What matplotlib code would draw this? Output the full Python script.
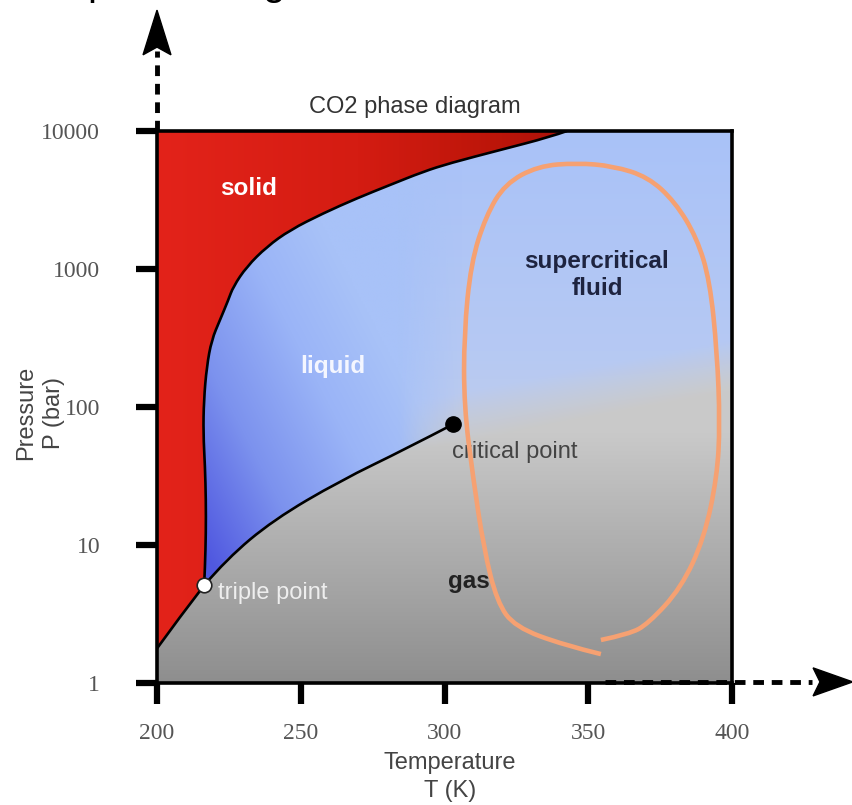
import numpy as np
import matplotlib
matplotlib.use("Agg")
import matplotlib.pyplot as plt
from matplotlib.patches import Polygon, PathPatch
from matplotlib.path import Path
from matplotlib.lines import Line2D
from matplotlib.colors import to_rgb

# phase boundaries of CO2, T in K, P in bar
sub_T = [200, 208, 216.4]
sub_P = [1.78, 3.0, 5.1]
melt_T = [216.4, 216.7, 217.0, 217.0, 216.7, 216.1, 216.3, 217.3, 219.0,
          221.9, 224.8, 226.5, 231.2, 238.2, 246.3, 257.8, 269.5, 281.0, 292.6,
          301.9, 319.3, 336.7, 342.6]
melt_P = [5.1, 6.96, 12.2, 21.2, 36.9, 64.5, 112, 196, 306,
          427, 596, 744, 1040, 1451, 1918, 2534, 3253, 4062, 5072,
          5850, 7280, 9050, 10000]
vap_T = [216.4, 224.2, 240.5, 263.7, 286.8, 303.0]
vap_P = [5.1, 7.9, 15.2, 29.2, 50.0, 75.0]
triple = (216.4, 5.1)
critical = (303.0, 75.0)

# hand-drawn orange loop (T, P)
loop_T = [354.4, 341.6, 324.5, 318.3, 313.7, 309.9, 306.8, 306.8, 309.2, 314.4,
          321.0, 332.5, 346.1, 358.6, 370.8, 380.2, 387.8, 392.3, 394.8, 395.8,
          394.8, 390.3, 382.3, 370.8, 364.2, 354.4]
loop_P = [1.62, 1.88, 2.55, 3.86, 9.35, 31.1, 101.6, 338, 1105, 2423,
          4130, 5575, 5865, 5575, 4645, 3060, 1678, 818, 250, 75.3,
          31.1, 11.2, 4.88, 2.68, 2.26, 2.05]

x_ticks = [200, 250, 300, 350, 400]
y_ticks = [1, 10, 100, 1000, 10000]
y_ticklabels = ["1", "10", "100", "1000", "10000"]

SANS = ["Liberation Sans", "DejaVu Sans"]
SERIF = ["Liberation Serif", "DejaVu Serif"]


def ramp(t, stops, colors):
    """interpolate a colour ramp over array t"""
    rgb = np.array([to_rgb(c) for c in colors])
    out = np.zeros(t.shape + (3,))
    for k in range(3):
        out[..., k] = np.interp(t, stops, rgb[:, k])
    return out


def smooth_path(xs, ys):
    """quadratic bezier through the midpoints, midpoints taken in log-P"""
    verts = [(xs[0], ys[0])]
    codes = [Path.MOVETO]
    n = len(xs)
    for i in range(1, n - 1):
        mx = 0.5 * (xs[i] + xs[i + 1])
        my = np.sqrt(ys[i] * ys[i + 1])
        if i == n - 2:
            mx, my = xs[-1], ys[-1]
        verts += [(xs[i], ys[i]), (mx, my)]
        codes += [Path.CURVE3, Path.CURVE3]
    return Path(verts, codes)


fig = plt.figure(figsize=(8.53, 8.05), dpi=100)
ax = fig.add_axes([157 / 853, 1 - 683 / 805, 575 / 853, 552 / 805])
ax.set_yscale("log")
ax.set_autoscale_on(False)

ny, nx = 300, 300
fx = np.linspace(0, 1, nx)[None, :] * np.ones((ny, 1))
fy = np.linspace(0, 1, ny)[:, None] * np.ones((1, nx))

# background: gas grey fading into supercritical blue
gray = ramp(fy, [0, 0.15, 0.33, 0.45, 1.0],
            ["#8e8e8e", "#a2a2a2", "#b9b9b9", "#c9c9c9", "#d0d0d0"])
blue = ramp(fy, [0.4, 0.6, 1.0], ["#c2cdea", "#b6c9f3", "#a9c2f8"])
w = np.clip((fy - 0.2 * (fx - 0.5) - 0.43) / 0.09, 0, 1)[..., None]
bg = w * blue + (1 - w) * gray
ax.imshow(bg, extent=(0, 1, 0, 1), transform=ax.transAxes, origin="lower",
          aspect="auto", interpolation="bilinear", zorder=0)

# solid region
solid_img = ramp(fx, [0, 0.35, 0.6, 0.75], ["#e3231a", "#d41c12", "#bb1509", "#a5110a"])
sol_poly = Polygon(np.column_stack([sub_T + melt_T[1:] + [200], sub_P + melt_P[1:] + [10000]]),
                   closed=True, transform=ax.transData)
im = ax.imshow(solid_img, extent=(0, 1, 0, 1), transform=ax.transAxes, origin="lower",
               aspect="auto", interpolation="bilinear", zorder=1)
im.set_clip_path(sol_poly)

# liquid region, fades out towards the supercritical side
t = np.clip(((fx - 0.09) + 0.5 * (fy - 0.22)) / 0.5, 0, 1)
liq = ramp(t, [0, 0.35, 0.7, 1], ["#5058e0", "#7c92ee", "#9ab4f7", "#a8c2f8"])
alpha = np.clip((0.53 - fx) / 0.11, 0, 1)[..., None]
liq_img = np.concatenate([liq, alpha], axis=2)
liq_poly = Polygon(np.column_stack([melt_T + [400, 400] + vap_T[::-1],
                                    melt_P + [10000, critical[1]] + vap_P[::-1]]),
                   closed=True, transform=ax.transData)
im = ax.imshow(liq_img, extent=(0, 1, 0, 1), transform=ax.transAxes, origin="lower",
               aspect="auto", interpolation="bilinear", zorder=1)
im.set_clip_path(liq_poly)

# phase boundaries
ax.plot(sub_T, sub_P, color="black", lw=1.9, zorder=3)
for xs, ys in [(melt_T, melt_P), (vap_T, vap_P)]:
    ax.add_patch(PathPatch(smooth_path(xs, ys), facecolor="none", edgecolor="black",
                           lw=1.9, transform=ax.transData, zorder=3))
ax.plot(*critical, "o", ms=11, color="black", zorder=4)
ax.plot(*triple, "o", ms=10.5, mfc="white", mec="#222222", mew=1.2, zorder=4)

ax.set_xlim(200, 400)
ax.set_ylim(1, 10000)
ax.set_xticks(x_ticks)
ax.set_xticklabels([str(v) for v in x_ticks])
ax.set_yticks(y_ticks)
ax.set_yticklabels(y_ticklabels)
ax.minorticks_off()
ax.tick_params(axis="both", direction="out", length=15, width=4.5, color="black",
               labelsize=17, labelcolor="#555555")
ax.tick_params(axis="y", pad=26)
ax.tick_params(axis="x", pad=14)
for lab in ax.get_xticklabels() + ax.get_yticklabels():
    lab.set_family(SERIF)
for sp in ax.spines.values():
    sp.set_linewidth(2.6)
    sp.set_zorder(5)

# region labels
ax.text(232, 3860, "solid", color="white", fontsize=17.5, fontweight="bold",
        ha="center", va="center", family=SANS, zorder=5)
ax.text(261, 198, "liquid", color="#f4f6ff", fontsize=17.5, fontweight="bold",
        ha="center", va="center", family=SANS, zorder=5)
ax.text(353, 905, "supercritical\nfluid", color="#1e2440", fontsize=17.5, fontweight="bold",
        ha="center", va="center", family=SANS, linespacing=1.2, zorder=5)
ax.text(302.6, 47.2, "critical point", color="#444444", fontsize=17,
        ha="left", va="center", family=SANS, zorder=5)
ax.text(221.2, 4.49, "triple point", color="#eeeeee", fontsize=17,
        ha="left", va="center", family=SANS, zorder=5)
ax.text(301.2, 5.4, "gas", color="#222222", fontsize=17.5, fontweight="bold",
        ha="left", va="center", family=SANS, zorder=5)

# orange hand-drawn loop
loop = PathPatch(smooth_path(loop_T, loop_P), facecolor="none", edgecolor="#f6a172",
                 lw=3.3, capstyle="butt", joinstyle="round", transform=ax.transData,
                 zorder=6, clip_on=False)
ax.add_patch(loop)

# titles and axis labels
fig.text(415 / 853, 1 - 107 / 805, "CO2 phase diagram", fontsize=17, color="#333333",
         ha="center", va="center", family=SANS)
fig.text(450 / 853, 1 - 777 / 805, "Temperature\nT (K)", fontsize=17, color="#444444",
         ha="center", va="center", family=SANS, linespacing=1.3)
fig.text(40 / 853, 1 - 413 / 805, "Pressure\nP (bar)", fontsize=17, color="#444444",
         ha="center", va="center", family=SANS, rotation=90, linespacing=1.3)
# slide title, cut off at the top edge
fig.text(88 / 853, 1 + 5 / 805, "phase diagram", fontsize=29, color="black",
         ha="left", va="baseline", family=SANS)

# dashed arrows along the axes (axes fraction coords)
dash = dict(color="black", lw=3.5, linestyle=(0, (2.2, 1.6)), transform=ax.transAxes,
            clip_on=False, zorder=7)
ax.add_line(Line2D([0, 0], [1.0, 1.145], **dash))
ax.add_line(Line2D([0.779, 1.14], [0.002, 0.002], **dash))
hw_x, hw_y = 0.0243, 0.0254
ax.add_patch(Polygon([[0, 1.219], [-hw_x, 1.138], [0, 1.152], [hw_x, 1.138]], closed=True,
                     color="black", transform=ax.transAxes, clip_on=False, zorder=7))
ax.add_patch(Polygon([[1.21, 0.002], [1.141, 0.002 + hw_y], [1.153, 0.002], [1.141, 0.002 - hw_y]],
                     closed=True, color="black", transform=ax.transAxes, clip_on=False, zorder=7))

fig.savefig("out.png", dpi=100)
